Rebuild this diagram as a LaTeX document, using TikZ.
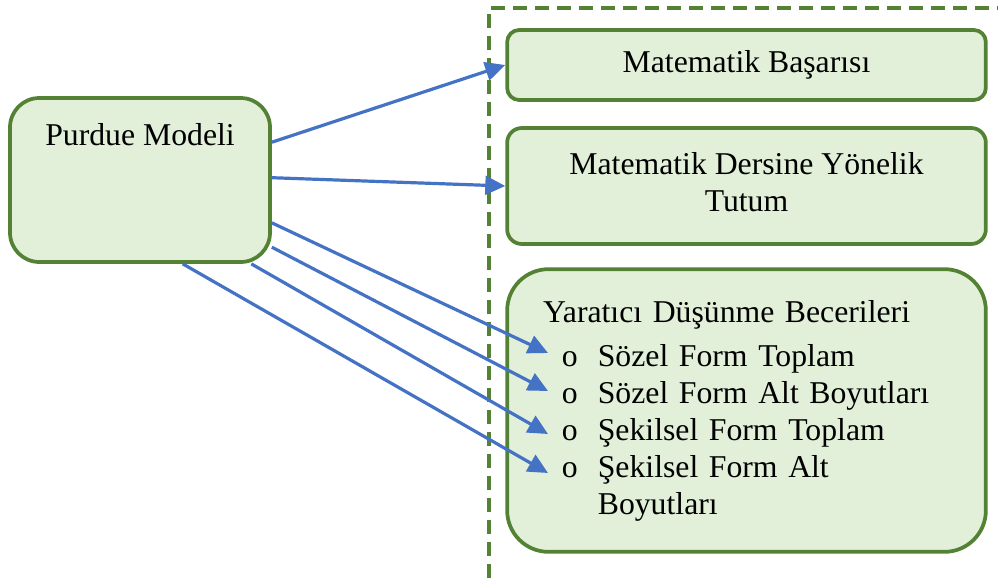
\documentclass[tikz,border=0pt]{standalone}
\usepackage{fontspec}
\setmainfont{Liberation Serif}
\usetikzlibrary{arrows.meta}
\definecolor{boxgreen}{HTML}{548235}
\definecolor{boxfill}{HTML}{E2EFD9}
\definecolor{arrowblue}{HTML}{4472C4}
\tikzset{
  greenbox/.style={draw=boxgreen, fill=boxfill, line width=2.8pt, rounded corners=#1, minimum width=359pt, align=center},
  greenbox/.default=9pt,
  bluearrow/.style={draw=arrowblue, line width=2.4pt, -{Triangle[length=15pt,width=14pt]}},
}

\begin{document}
\begin{tikzpicture}[x=0.75pt, y=-0.75pt, font=\fontsize{23.8}{27.6}\selectfont]
  \useasboundingbox (0,0) rectangle (998,578);
  % dashed frame
  \draw[boxgreen, line width=2.5pt, dash pattern=on 10.5pt off 6pt] (489,578) -- (489,8) -- (998,8);

  \node[greenbox=22pt, minimum width=195pt, minimum height=123pt,
        label={[anchor=center, yshift=-29pt]north:Purdue Modeli}] (purdue) at (140,180) {};
  \node[greenbox, minimum height=52.5pt] (basari) at (746.5,65) {Matematik Başarısı};
  \node[greenbox=11pt, minimum height=87pt, text depth=6pt] (tutum) at (746.5,186) {Matematik Dersine Yönelik\\Tutum};
  \node[greenbox=31pt, minimum height=212pt, inner xsep=27pt, text width=305pt, align=left] (yaratici) at (746.5,410.5)
    {Yaratıcı Düşünme Becerileri\\[6pt]
     \hspace*{14pt}\makebox[27pt][l]{o}Sözel Form Toplam\\
     \hspace*{14pt}\makebox[27pt][l]{o}Sözel Form Alt Boyutları\\
     \hspace*{14pt}\makebox[27pt][l]{o}Şekilsel Form Toplam\\
     \hspace*{14pt}\makebox[27pt][l]{o}Şekilsel Form Alt\\
     \hspace*{41pt}Boyutları};

  % arrow ends at the list items
  \coordinate (sozelT) at (548,353);
  \coordinate (sozelA) at (548,391);
  \coordinate (sekilT) at (548,434);
  \coordinate (sekilA) at (548,473);

  \draw[bluearrow] (purdue.16) -- (basari.west);
  \draw[bluearrow] (purdue.1) -- (tutum.west);
  \draw[bluearrow] (purdue.-18) -- (sozelT);
  \draw[bluearrow] (purdue.-27) -- (sozelA);
  \draw[bluearrow] (purdue.-37) -- (sekilT);
  \draw[bluearrow] (purdue.-63) -- (sekilA);
\end{tikzpicture}
\end{document}
